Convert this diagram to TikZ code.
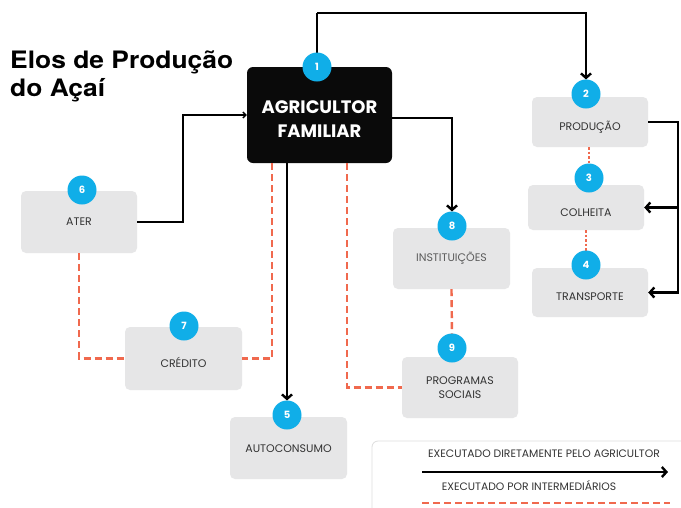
\documentclass[tikz,border=0pt]{standalone}
\usepackage{fontspec}
\setmainfont{Poppins}
\newfontfamily\titlefont[FakeStretch=1.1]{TeX Gyre Heros}
\usetikzlibrary{arrows.meta}
\definecolor{badgecyan}{HTML}{10AEE8}
\definecolor{boxgray}{HTML}{E6E6E7}
\definecolor{dashred}{HTML}{F0694E}
\definecolor{labelgray}{HTML}{333333}
\definecolor{legendgray}{HTML}{DDDDDD}
\tikzset{
  box/.style={fill=boxgray, rounded corners=5pt, inner sep=0pt},
  lbl/.style={text=labelgray, font=\fontsize{11}{13.5}\selectfont, align=center, inner sep=0pt},
  badge/.style={circle, fill=badgecyan, minimum size=29pt, inner sep=0pt, text=white, font=\bfseries\fontsize{10}{11}\selectfont},
  arr/.style={line width=2.4pt, -{Straight Barb[length=4.5pt,width=10pt]}},
  thinarr/.style={line width=1.4pt, -{Straight Barb[length=3pt,width=6pt]}},
  dashlink/.style={dashred, line width=2.4pt, dash pattern=on 7pt off 4pt},
  dotlink/.style={dashred, line width=2.4pt, dash pattern=on 2.5pt off 2pt},
  legtext/.style={lbl, font=\fontsize{10.8}{12}\selectfont},
}
\begin{document}
\begin{tikzpicture}[x=1pt,y=-1pt]
\clip (0,0) rectangle (681,507);
\fill[white] (0,0) rectangle (681,507);
% title
\node[anchor=base west, inner sep=0pt, font=\titlefont\bfseries\fontsize{24}{27}\selectfont] (t1) at (10,68) {Elos de Produção};
\node[anchor=base west, inner sep=0pt, font=\titlefont\bfseries\fontsize{24}{27}\selectfont] (t2) at (10,96) {do Açaí};
% boxes
\node[fill=black!96, rounded corners=6pt, minimum width=145pt, minimum height=96pt] (agr) at (319.5,115) {};
\node[text=white, font=\bfseries\fontsize{18}{23.5}\selectfont, align=center, inner sep=0pt] (agrt) at (319.5,119) {AGRICULTOR\\FAMILIAR};
\node[box, minimum width=116pt, minimum height=50pt] (prod) at (590,122) {};
\node[lbl] (prodt) at (590,127) {PRODUÇÃO};
\node[box, minimum width=116pt, minimum height=45pt] (colh) at (586,207.5) {};
\node[lbl] (colht) at (586,213) {COLHEITA};
\node[box, minimum width=116pt, minimum height=49pt] (trans) at (590,292.5) {};
\node[lbl] (transt) at (590,297) {TRANSPORTE};
\node[box, minimum width=117pt, minimum height=61pt] (inst) at (451.5,258.5) {};
\node[lbl, text=labelgray!80] (instt) at (451.5,258) {INSTITUIÇÕES};
\node[box, minimum width=116pt, minimum height=61pt] (prog) at (460,387.5) {};
\node[lbl] (progt) at (460,387.5) {PROGRAMAS\\SOCIAIS};
\node[box, minimum width=116pt, minimum height=62pt] (ater) at (79,222) {};
\node[lbl] (atert) at (79,222) {ATER};
\node[box, minimum width=117pt, minimum height=63pt] (cred) at (183.5,358.5) {};
\node[lbl] (credt) at (183.5,362) {CRÉDITO};
\node[box, minimum width=117pt, minimum height=62pt] (auto) at (288.5,448) {};
\node[lbl] (autot) at (288.5,449) {AUTOCONSUMO};
% connectors (solid)
\coordinate (top1) at (317,13);
\coordinate (rj) at (678,122);
\draw[line width=2.4pt] (317,67) -- (top1);
\draw[arr] (top1) -| (586,79.5);
\draw[arr] (agr.east |- 0,118) -| (452,211.5);
\draw[arr] (prod.east) -- (rj) |- (trans.east);
\draw[arr] (rj |- colh.east) -- (colh.east);
\draw[thinarr] (ater.east) -| (183,115) -- (agr.west);
\draw[arr] (287,163) -- (287,400.5);
% dashed
\draw[dashlink] (272,163) |- (cred.east);
\draw[dashlink] (ater.south) |- (cred.west);
\draw[dashlink] (347,163) |- (prog.west);
\draw[dashlink] (inst.south) -- (452,333.5);
\draw[dotlink] (589,147) -- (589,163.5);
\draw[dotlink] (586,230) -- (586,250.5);
% badges
\node[badge] (b1) at (317,67) {1};
\node[badge] (b2) at (586,94) {2};
\node[badge] (b3) at (589,178) {3};
\node[badge] (b4) at (586,265) {4};
\node[badge] (b5) at (287,415) {5};
\node[badge] (b6) at (82,190) {6};
\node[badge] (b7) at (184,326) {7};
\node[badge] (b8) at (452,226) {8};
\node[badge] (b9) at (452,348) {9};
% legend
\draw[legendgray, line width=0.8pt, rounded corners=6pt] (372,441) rectangle (710,530);
\node[legtext] (leg1) at (544,454) {EXECUTADO DIRETAMENTE PELO AGRICULTOR};
\coordinate (la) at (422,472);
\coordinate (lb) at (668,472);
\draw[arr] (la) -- (lb);
\node[legtext] (leg2) at (529,486) {EXECUTADO POR INTERMEDIÁRIOS};
\coordinate (lc) at (422,503);
\coordinate (ld) at (670,503);
\draw[dashlink] (lc) -- (ld);
\end{tikzpicture}
\end{document}
